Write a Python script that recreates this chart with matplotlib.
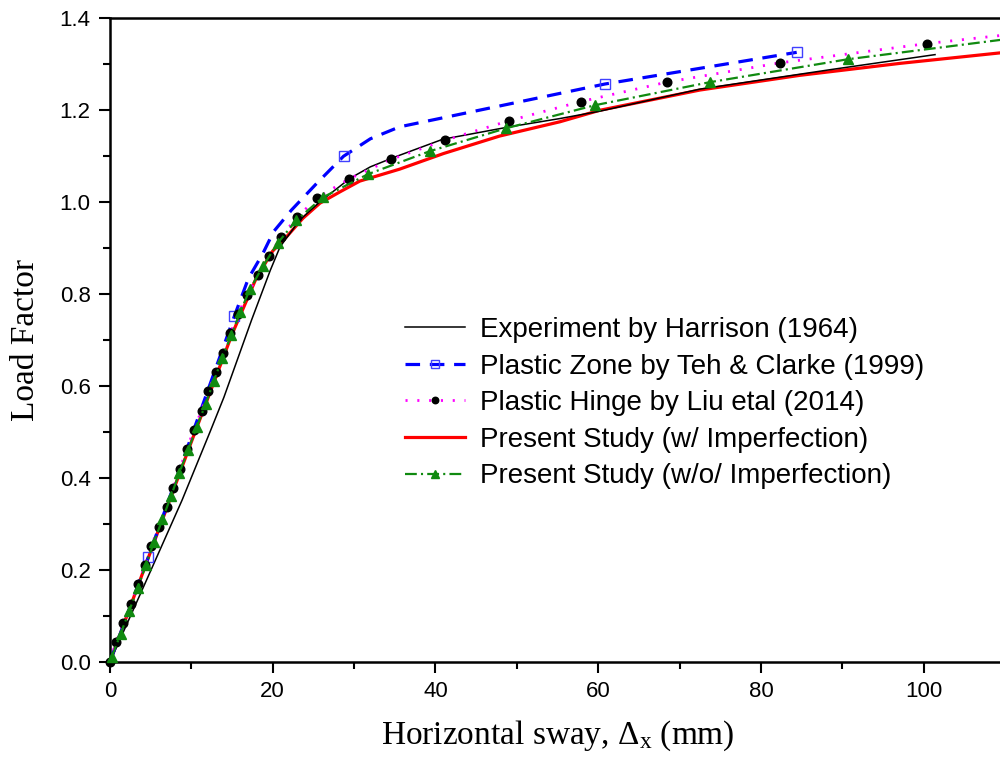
import matplotlib
matplotlib.use("Agg")
import matplotlib.pyplot as plt
from matplotlib.ticker import MultipleLocator, FormatStrFormatter

plt.rcParams["font.family"] = ["Liberation Sans", "DejaVu Sans"]
plt.rcParams["mathtext.fontset"] = "custom"
plt.rcParams["mathtext.rm"] = "Liberation Serif"
plt.rcParams["mathtext.it"] = "Liberation Serif:italic"
plt.rcParams["lines.scale_dashes"] = False

# Experiment by Harrison (1964)
exp_x = [0, 4.0, 8.85, 12.3, 14.0, 17.4, 19.7, 20.9, 23.3, 25.8, 29.5, 32.0,
         34.8, 40.9, 49.1, 55.3, 60.2, 72.5, 88.8, 101.4]
exp_y = [0, 0.158, 0.351, 0.500, 0.575, 0.743, 0.851, 0.902, 0.960, 1.000, 1.051,
         1.076, 1.096, 1.136, 1.163, 1.181, 1.197, 1.245, 1.288, 1.320]

# Plastic zone analysis, Teh & Clarke (1999)
pz_x = [0, 4.7, 15.3, 17.0, 18.8, 20.1, 22.3, 25.4, 28.7, 32.0, 35.6, 60.8, 84.4]
pz_y = [0, 0.227, 0.752, 0.833, 0.888, 0.935, 0.982, 1.040, 1.099, 1.137, 1.163,
        1.256, 1.325]
pz_marked = [1, 2, 8, 11, 12]

# Plastic hinge analysis, Liu et al (2014)
ph_x = [0, 0.7, 1.65, 2.55, 3.45, 4.3, 5.1, 6.0, 6.95, 7.8, 8.6, 9.45, 10.3,
        11.25, 12.1, 13.0, 13.85, 14.8, 15.75, 16.85, 18.15, 19.6, 21.0, 23.0,
        25.4, 29.4, 34.5, 41.2, 49.0, 57.9, 68.4, 82.3, 100.4, 122.0]
ph_y = [0, 0.042, 0.084, 0.126, 0.168, 0.210, 0.252, 0.294, 0.336, 0.378, 0.420,
        0.462, 0.504, 0.546, 0.588, 0.630, 0.672, 0.714, 0.756, 0.798, 0.840,
        0.882, 0.924, 0.966, 1.008, 1.050, 1.092, 1.134, 1.176, 1.218, 1.260,
        1.302, 1.344, 1.386]

# Present study, with imperfection
wi_x = [0, 5, 10, 15, 18, 20, 21.7, 23.7, 25.8, 28.3, 30.7, 35.6, 41.0, 47.9,
        55.3, 60.2, 72.5, 84.8, 97.1, 109.5]
wi_y = [0, 0.240, 0.478, 0.712, 0.835, 0.893, 0.924, 0.964, 0.997, 1.022, 1.045,
        1.071, 1.105, 1.143, 1.174, 1.199, 1.243, 1.275, 1.301, 1.324]

# Present study, without imperfection
wo_x = [0.2, 1.3, 2.35, 3.4, 4.4, 5.4, 6.45, 7.5, 8.5, 9.6, 10.65, 11.75, 12.75,
        13.8, 14.9, 16.0, 17.2, 18.8, 20.6, 22.9, 26.2, 31.7, 39.3, 48.7, 59.6,
        73.7, 90.7, 113.0]
wo_y = [0.01, 0.06, 0.11, 0.16, 0.21, 0.26, 0.31, 0.36, 0.41, 0.46, 0.51, 0.56,
        0.61, 0.66, 0.71, 0.76, 0.81, 0.86, 0.91, 0.96, 1.01, 1.06, 1.11, 1.16,
        1.21, 1.26, 1.31, 1.36]

x_ticks = [0, 20, 40, 60, 80, 100]
y_ticks = [0.0, 0.2, 0.4, 0.6, 0.8, 1.0, 1.2, 1.4]

fig = plt.figure(figsize=(10, 7.62), dpi=100)
ax = fig.add_axes([0.11, 0.1316, 0.895, 0.845])

ax.plot(wi_x, wi_y, color="#ff0000", lw=2.3, zorder=2, clip_on=False,
        label="Present Study (w/ Imperfection)")
ax.plot(exp_x, exp_y, color="black", lw=1.1, zorder=3, clip_on=False,
        label="Experiment by Harrison (1964)")
ax.plot(pz_x, pz_y, color="#0000ff", lw=2.3, ls=(0, (10.5, 7)), zorder=3,
        marker="s", markevery=pz_marked, ms=7.5, mfc="none", mec="#4040ff",
        mew=1.0, clip_on=False, label="Plastic Zone by Teh & Clarke (1999)")
ax.plot(ph_x, ph_y, color="#ff00ff", lw=2.0, ls=(0, (1.5, 7)), zorder=4,
        marker="o", ms=6.2, mfc="black", mec="black", clip_on=False,
        label="Plastic Hinge by Liu etal (2014)")
ax.plot(wo_x, wo_y, color="#108a10", lw=1.6, ls=(0, (8.5, 3, 1.5, 3)), zorder=5,
        marker="^", ms=7.5, mfc="#108a10", mec="#108a10", clip_on=False,
        label="Present Study (w/o/ Imperfection)")

ax.set_xlim(0, 110)
ax.set_ylim(0, 1.4)
ax.set_xticks(x_ticks)
ax.set_yticks(y_ticks)
ax.yaxis.set_major_formatter(FormatStrFormatter("%.1f"))
ax.xaxis.set_minor_locator(MultipleLocator(10))
ax.yaxis.set_minor_locator(MultipleLocator(0.1))
ax.tick_params(which="major", direction="out", length=8, width=1.5,
               labelsize=16, pad=6)
ax.tick_params(which="minor", direction="out", length=5, width=1.5)
ax.tick_params(top=False, right=False)
for side in ("left", "bottom", "top", "right"):
    ax.spines[side].set_linewidth(1.8)

ax.set_xlabel(r"Horizontal sway, Δ$_{\mathrm{x}}$ (mm)",
              family="Liberation Serif", fontsize=24, labelpad=12)
ax.set_ylabel("Load Factor", family="Liberation Serif", fontsize=24, labelpad=13)

handles, labels = ax.get_legend_handles_labels()
order = [1, 2, 3, 0, 4]
leg = ax.legend([handles[i] for i in order], [labels[i] for i in order],
                loc="upper left", bbox_to_anchor=(0.405, 1 - 317 / 762),
                bbox_transform=fig.transFigure, frameon=False, fontsize=20,
                handlelength=2.16, handletextpad=0.54, labelspacing=0.38,
                borderpad=0, borderaxespad=0, numpoints=1, markerscale=0.75)

fig.savefig("out.png", dpi=100)
